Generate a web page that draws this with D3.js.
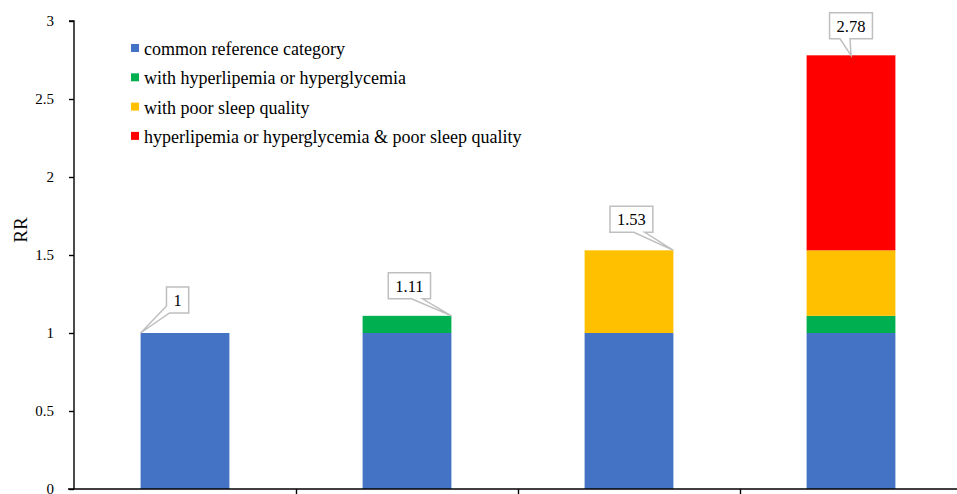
<!DOCTYPE html>
<html>
<head>
<meta charset="utf-8">
<script src="https://cdn.jsdelivr.net/npm/d3@7"></script>
<style>
  html, body { margin: 0; padding: 0; background: #fff; }
  svg { display: block; }
  svg text { font-family: "Liberation Serif", "Times New Roman", "DejaVu Serif", serif; }
</style>
</head>
<body>
<svg id="chart" width="957" height="494"></svg>
<script>
// ---- data ----
const categories = ["Neither", "Hyperlipemia or hyperglycemia", "Poor sleep quality", "Both"];
const seriesNames = [
  "common reference category",
  "with hyperlipemia or hyperglycemia",
  "with poor sleep quality",
  "hyperlipemia or hyperglycemia & poor sleep quality"
];
const commonRef   = [1, 1, 1, 1];
const withHyper   = [0, 0.11, 0, 0.11];
const withSleep   = [0, 0, 0.53, 0.42];
const jointEffect = [0, 0, 0, 1.25];
const totalRR     = [1, 1.11, 1.53, 2.78];
const yTicks      = [0, 0.5, 1, 1.5, 2, 2.5, 3];

// ---- style / layout ----
const colors = ["#4472C4", "#00B050", "#FFC000", "#FF0000"];
const W = 957, H = 494;
const axisX = 74, axisY = 489, topY = 21, rightX = 962;
const serif = '"Liberation Serif", "Times New Roman", "DejaVu Serif", serif';
// callout placement: anchor on bar ('left','right','center') and box centre offset
const calloutAnchor = ["left", "right", "right", "center"];
const calloutOffset = [[37, -33], [-42, -30], [-42, -31], [0, -29.5]];

const svg = d3.select("#chart");

const x = d3.scaleBand().domain(categories).range([axisX, rightX]).paddingInner(0.6).paddingOuter(0.3);
const y = d3.scaleLinear().domain([0, 3]).range([axisY, topY]);

const table = categories.map((c, i) => ({
  cat: c, s0: commonRef[i], s1: withHyper[i], s2: withSleep[i], s3: jointEffect[i]
}));
const stack = d3.stack().keys(["s0", "s1", "s2", "s3"])(table);

// bars
svg.append("g").selectAll("g").data(stack).join("g")
  .attr("fill", (d, i) => colors[i])
  .selectAll("rect").data(d => d.filter(p => p[1] - p[0] > 0)).join("rect")
  .attr("x", d => x(d.data.cat))
  .attr("width", x.bandwidth())
  .attr("y", d => y(d[1]))
  .attr("height", d => y(d[0]) - y(d[1]));

// y axis
const yAxis = d3.axisLeft(y).tickValues(yTicks).tickSize(5).tickPadding(15).tickFormat(d3.format("~g"));
const gy = svg.append("g").attr("transform", `translate(${axisX},0)`).call(yAxis);
gy.attr("font-family", null);
gy.select(".domain").attr("stroke", "#000").attr("stroke-width", 1.4).attr("d", `M-5,${topY}H0V${axisY}`);
gy.selectAll(".tick line").attr("stroke", "#000").attr("stroke-width", 1.4);
gy.selectAll(".tick text").style("font-family", serif).attr("font-size", 15).attr("fill", "#000");

// x axis with boundary ticks
const xb = d3.scaleLinear().domain([0, categories.length]).range([axisX, axisX + x.step() * categories.length]);
const xAxis = d3.axisBottom(xb).tickValues(d3.range(1, categories.length + 1)).tickSize(8).tickFormat("");
const gx = svg.append("g").attr("transform", `translate(0,${axisY})`).call(xAxis);
gx.select(".domain").attr("stroke", "#000").attr("stroke-width", 1.4).attr("d", `M${axisX - 6},0H${W}`);
gx.selectAll(".tick line").attr("stroke", "#000").attr("stroke-width", 1.4);

// y label
svg.append("text")
  .attr("transform", `translate(27,230) rotate(-90)`)
  .attr("text-anchor", "middle")
  .style("font-family", serif).attr("font-size", 19).attr("fill", "#000")
  .text("RR");

// legend
const legend = svg.append("g");
seriesNames.forEach((name, i) => {
  const cy = 48 + i * 29.3;
  legend.append("rect").attr("x", 131).attr("y", cy - 4).attr("width", 8).attr("height", 8).attr("fill", colors[i]);
  legend.append("text").attr("x", 144).attr("y", cy + 7)
    .style("font-family", serif).attr("font-size", 18).attr("fill", "#000").text(name);
});

// callouts
const cg = svg.append("g");
totalRR.forEach((v, i) => {
  const c = categories[i];
  const ax = calloutAnchor[i] === "left" ? x(c) : calloutAnchor[i] === "right" ? x(c) + x.bandwidth() : x(c) + x.bandwidth() / 2;
  const ay = y(v);
  const label = d3.format("~g")(v);
  const t = cg.append("text").style("font-family", serif).attr("font-size", 16.5).attr("fill", "#000")
    .attr("text-anchor", "middle").text(label);
  const tw = t.node().getComputedTextLength();
  const bw = tw + 14, bh = 26;
  const cx = ax + calloutOffset[i][0], cy = ay + calloutOffset[i][1];
  const x0 = cx - bw / 2, x1 = cx + bw / 2, y0 = cy - bh / 2, y1 = cy + bh / 2;
  let p;
  if (calloutAnchor[i] === "left") {
    p = `M${x0},${y0}H${x1}V${y1}H${x0 + 3}L${ax},${ay}L${x0},${y1 - 7}Z`;
  } else if (calloutAnchor[i] === "right") {
    p = `M${x0},${y0}H${x1}V${y1}H${x1 - 8}L${ax},${ay}L${x1 - 19},${y1}H${x0}Z`;
  } else {
    p = `M${x0},${y0}H${x1}V${y1}H${cx - 1}L${ax},${ay}L${cx - 11},${y1}H${x0}Z`;
  }
  cg.insert("path", "text").attr("d", p).attr("fill", "#fff").attr("stroke", "#BFBFBF").attr("stroke-width", 1.5);
  t.attr("x", cx).attr("y", cy + 6);
});
</script>
</body>
</html>
